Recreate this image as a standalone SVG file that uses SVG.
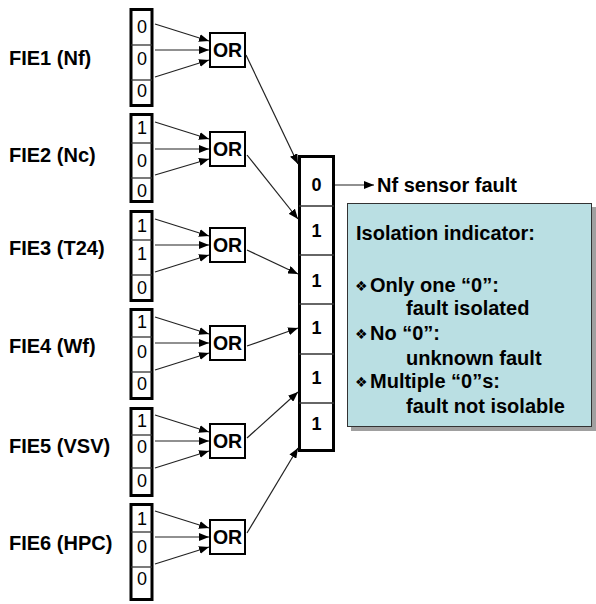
<svg xmlns="http://www.w3.org/2000/svg" width="596" height="604" viewBox="0 0 596 604">
<style>
.lbl{font-family:"Liberation Sans",Arial,sans-serif;font-weight:bold;font-size:20px;fill:#000}
.dig{font-family:"Liberation Sans",Arial,sans-serif;font-size:18px;fill:#000;text-anchor:middle}
.bdig{font-family:"Liberation Sans",Arial,sans-serif;font-weight:bold;font-size:18px;fill:#000;text-anchor:middle}
.or{font-family:"Liberation Sans",Arial,sans-serif;font-weight:bold;font-size:19.5px;fill:#000;text-anchor:middle}
.col{fill:#fff;stroke:#000;stroke-width:3}
.div{stroke:#333;stroke-width:1.3}
.gate{fill:#fff;stroke:#000;stroke-width:2}
.con{stroke:#222;stroke-width:1.2;fill:none;marker-end:url(#ah)}
.bul{font-family:"DejaVu Sans",sans-serif;font-size:14px;fill:#000}
</style>
<defs>
<marker id="ah" markerUnits="userSpaceOnUse" markerWidth="10" markerHeight="8" refX="10" refY="4" orient="auto">
<path d="M0,0 L10,4 L0,8 z" fill="#000"/>
</marker>
</defs>

<g id="fie1">
<text class="lbl" x="9" y="65">FIE1 (Nf)</text>
<rect class="col" x="131" y="9.5" width="21" height="96"/>
<line class="div" x1="131" y1="45" x2="152" y2="45"/><line class="div" x1="131" y1="80" x2="152" y2="80"/>
<text class="dig" x="142" y="33">0</text><text class="dig" x="142" y="65">0</text><text class="dig" x="142" y="97">0</text>
</g>
<g id="fie2">
<text class="lbl" x="9" y="162">FIE2 (Nc)</text>
<rect class="col" x="131" y="114.5" width="21" height="87"/>
<line class="div" x1="131" y1="143" x2="152" y2="143"/><line class="div" x1="131" y1="178" x2="152" y2="178"/>
<text class="dig" x="142" y="134">1</text><text class="dig" x="142" y="167">0</text><text class="dig" x="142" y="197">0</text>
</g>
<g id="fie3">
<text class="lbl" x="9" y="255">FIE3 (T24)</text>
<rect class="col" x="131" y="211.5" width="21" height="89"/>
<line class="div" x1="131" y1="240" x2="152" y2="240"/><line class="div" x1="131" y1="275" x2="152" y2="275"/>
<text class="dig" x="142" y="232">1</text><text class="dig" x="142" y="260">1</text><text class="dig" x="142" y="294">0</text>
</g>
<g id="fie4">
<text class="lbl" x="9" y="353">FIE4 (Wf)</text>
<rect class="col" x="131" y="309.5" width="21" height="89"/>
<line class="div" x1="131" y1="337" x2="152" y2="337"/><line class="div" x1="131" y1="372" x2="152" y2="372"/>
<text class="dig" x="142" y="328">1</text><text class="dig" x="142" y="358">0</text><text class="dig" x="142" y="390">0</text>
</g>
<g id="fie5">
<text class="lbl" x="9" y="453">FIE5 (VSV)</text>
<rect class="col" x="131" y="408.5" width="21" height="87"/>
<line class="div" x1="131" y1="435" x2="152" y2="435"/><line class="div" x1="131" y1="468" x2="152" y2="468"/>
<text class="dig" x="142" y="427">1</text><text class="dig" x="142" y="453">0</text><text class="dig" x="142" y="487">0</text>
</g>
<g id="fie6">
<text class="lbl" x="9" y="550">FIE6 (HPC)</text>
<rect class="col" x="131" y="504.5" width="21" height="95"/>
<line class="div" x1="131" y1="532" x2="152" y2="532"/><line class="div" x1="131" y1="567" x2="152" y2="567"/>
<text class="dig" x="142" y="525">1</text><text class="dig" x="142" y="553">0</text><text class="dig" x="142" y="585">0</text>
</g>

<g id="or1"><rect class="gate" x="210" y="33" width="35" height="34"/><text class="or" x="227.5" y="57">OR</text></g>
<g id="or2"><rect class="gate" x="210" y="132" width="35" height="34"/><text class="or" x="227.5" y="156">OR</text></g>
<g id="or3"><rect class="gate" x="210" y="228" width="35" height="34"/><text class="or" x="227.5" y="252">OR</text></g>
<g id="or4"><rect class="gate" x="210" y="326" width="35" height="34"/><text class="or" x="227.5" y="350">OR</text></g>
<g id="or5"><rect class="gate" x="210" y="424" width="35" height="34"/><text class="or" x="227.5" y="448">OR</text></g>
<g id="or6"><rect class="gate" x="210" y="520" width="35" height="34"/><text class="or" x="227.5" y="544">OR</text></g>

<g id="result">
<rect class="col" x="299.5" y="156.5" width="34" height="294"/>
<line class="div" x1="299" y1="206" x2="334" y2="206"/>
<line class="div" x1="299" y1="255" x2="334" y2="255"/>
<line class="div" x1="299" y1="304" x2="334" y2="304"/>
<line class="div" x1="299" y1="354" x2="334" y2="354"/>
<line class="div" x1="299" y1="403" x2="334" y2="403"/>
<text class="bdig" x="316.5" y="191">0</text>
<text class="bdig" x="316.5" y="237">1</text>
<text class="bdig" x="316.5" y="287">1</text>
<text class="bdig" x="316.5" y="334">1</text>
<text class="bdig" x="316.5" y="384">1</text>
<text class="bdig" x="316.5" y="430">1</text>
</g>

<g id="output"><text class="lbl" x="377" y="192">Nf sensor fault</text></g>

<g id="note">
<rect x="351" y="207" width="245" height="224" fill="#a0a0a0"/>
<rect x="347.5" y="203.5" width="244" height="223" fill="#BADFE3" stroke="#333" stroke-width="1"/>
<text class="lbl" x="356" y="240">Isolation indicator:</text>
<text class="bul" x="355" y="291">❖</text><text class="lbl" x="370" y="292">Only one “0”:</text>
<text class="lbl" x="406" y="315">fault isolated</text>
<text class="bul" x="355" y="339">❖</text><text class="lbl" x="370" y="340">No “0”:</text>
<text class="lbl" x="406" y="365">unknown fault</text>
<text class="bul" x="355" y="387">❖</text><text class="lbl" x="370" y="388">Multiple “0”s:</text>
<text class="lbl" x="406" y="413">fault not isolable</text>
</g>

<g id="connectors">
<line class="con" x1="155" y1="24" x2="209" y2="41"/>
<line class="con" x1="155" y1="50" x2="209" y2="50"/>
<line class="con" x1="155" y1="77" x2="209" y2="60"/>
<line class="con" x1="155" y1="122" x2="209" y2="139"/>
<line class="con" x1="155" y1="149" x2="209" y2="149"/>
<line class="con" x1="155" y1="175" x2="209" y2="159"/>
<line class="con" x1="155" y1="219" x2="209" y2="236"/>
<line class="con" x1="155" y1="245" x2="209" y2="245"/>
<line class="con" x1="155" y1="272" x2="209" y2="255"/>
<line class="con" x1="155" y1="317" x2="209" y2="334"/>
<line class="con" x1="155" y1="343" x2="209" y2="343"/>
<line class="con" x1="155" y1="370" x2="209" y2="353"/>
<line class="con" x1="155" y1="415" x2="209" y2="432"/>
<line class="con" x1="155" y1="441" x2="209" y2="441"/>
<line class="con" x1="155" y1="468" x2="209" y2="451"/>
<line class="con" x1="155" y1="511" x2="209" y2="528"/>
<line class="con" x1="155" y1="537" x2="209" y2="537"/>
<line class="con" x1="155" y1="564" x2="209" y2="547"/>
<line class="con" x1="246" y1="55" x2="298" y2="164"/>
<line class="con" x1="247" y1="155" x2="298" y2="219"/>
<line class="con" x1="247" y1="250" x2="298" y2="274"/>
<line class="con" x1="247" y1="346" x2="298" y2="328"/>
<line class="con" x1="247" y1="438" x2="298" y2="392"/>
<line class="con" x1="247" y1="533" x2="298" y2="448"/>
<line class="con" x1="335" y1="185" x2="374" y2="185"/>
</g>
</svg>
